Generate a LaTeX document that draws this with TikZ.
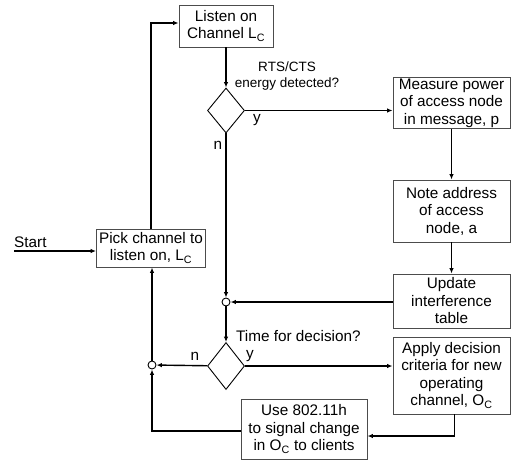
\documentclass[tikz,border=0pt]{standalone}
\usepackage{fontspec}
\setmainfont{Liberation Sans}
\usetikzlibrary{shapes.geometric,arrows.meta}
\tikzset{
  box/.style={draw=black!70, line width=0.9pt, align=center, inner sep=1pt,
    font=\fontsize{15.3}{17.5}\selectfont},
  choice/.style={diamond, draw=black, line width=0.9pt, inner sep=0pt},
  mergept/.style={circle, draw=black, line width=0.9pt, fill=white, minimum size=8pt, inner sep=0pt},
  arr/.style={-{Latex[length=5.5pt,width=4.5pt]}, line width=1.4pt},
  lbl/.style={font=\fontsize{15.3}{17.5}\selectfont, inner sep=0pt},
  sml/.style={font=\fontsize{13.5}{16}\selectfont, inner sep=0pt, align=center}
}
\begin{document}
\begin{tikzpicture}[x=1pt, y=-1pt]
            \useasboundingbox (0, 0) rectangle (511, 461);
            % 方框
            \node[box, minimum width=94pt, minimum height=42pt] (listen) at (226, 26) {Listen on\\Channel L\textsubscript{C}};
            \node[box, minimum width=117pt, minimum height=50pt] (measure) at (451.5, 103) {Measure power\\of access node\\in message, p};
            \node[box, minimum width=117pt, minimum height=62pt] (note) at (451.5, 211) {Note address\\of access\\node, a};
            \node[box, minimum width=117pt, minimum height=54pt] (update) at (451.5, 301) {Update\\interference\\table};
            \node[box, minimum width=117pt, minimum height=77pt] (apply) at (451.5, 375.5) {Apply decision\\criteria for new\\operating\\channel, O\textsubscript{C}};
            \node[box, minimum width=126pt, minimum height=60pt] (use) at (304, 429) {Use 802.11h\\to signal change\\in O\textsubscript{C} to clients};
            \node[box, minimum width=109pt, minimum height=38pt] (pick) at (151, 248) {Pick channel to\\listen on, L\textsubscript{C}};
            % 判断与汇合点
            \node[choice, minimum width=37pt, minimum height=45pt] (d1) at (226, 110.5) {};
            \node[choice, minimum width=37pt, minimum height=47pt] (d2) at (226, 366) {};
            \node[mergept] (c1) at (226, 302) {};
            \node[mergept] (c2) at (152, 365) {};
            \coordinate (start) at (14, 251);
            % 文字
            \node[sml] (q1) at (287, 76) {RTS/CTS\\energy detected?};
            \node[lbl] (y1) at (257, 120) {y};
            \node[lbl] (n1) at (218, 145) {n};
            \node[lbl, anchor=west] (q2) at (236, 336) {Time for decision?};
            \node[lbl] (y2) at (250, 356) {y};
            \node[lbl] (n2) at (195, 356) {n};
            \node[lbl, anchor=south west] (st) at (start) [yshift=3pt] {Start};
            % 连线
            \draw[arr] (start) -- (start -| pick.west);
            \draw[arr] (pick.north) |- ([yshift=3pt]listen.west);
            \draw[arr] (listen) -- (d1);
            \draw[arr] (d1.east) -- (d1.east -| measure.west);
            \draw[arr] (measure) -- (note);
            \draw[arr] (note) -- (update);
            \draw[arr] (update.west |- c1) -- (c1);
            \draw[arr] (d1) -- (c1);
            \draw[arr] (c1) -- (d2);
            \draw[arr] (d2.east) -- (d2.east -| apply.west);
            \draw[arr] ([xshift=3pt]apply.south) |- ([yshift=-7pt]use.east);
            \draw[arr] ([yshift=-2pt]use.west) -| (c2);
            \draw[arr] (d2) -- (c2);
            \draw[arr] (c2) -- (c2 |- pick.south);
        \end{tikzpicture}
\end{document}
